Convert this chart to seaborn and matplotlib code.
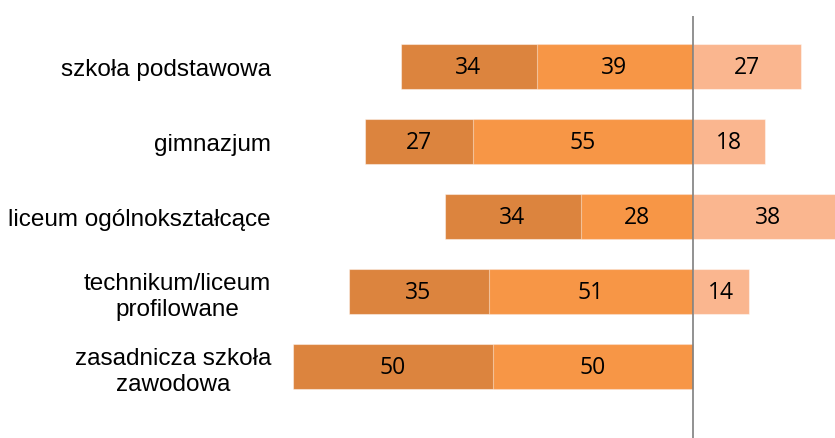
import seaborn as sns
import matplotlib.pyplot as plt
import pandas as pd

# data
categories = ["szkoła podstawowa", "gimnazjum", "liceum ogólnokształcące",
              "technikum/liceum\nprofilowane", "zasadnicza szkoła\nzawodowa"]
outer_left = [34, 27, 34, 35, 50]   # dark segment, far left
inner_left = [39, 55, 28, 51, 50]   # middle segment, next to zero
right_part = [27, 18, 38, 14, 0]    # light segment, right of zero

dark = "#DC843E"
mid = "#F79646"
light = "#FAB68F"

df = pd.DataFrame({
    "cat": categories,
    "outer": outer_left,
    "inner": inner_left,
    "right": right_part,
})
df["left_total"] = -(df["outer"] + df["inner"])
df["inner_neg"] = -df["inner"]

sns.set_theme(style="white")
plt.rcParams["font.family"] = ["Liberation Sans", "DejaVu Sans"]

fig = plt.figure(figsize=(8.35, 4.39), dpi=100)
ax = fig.add_axes([280 / 835, 0, 1 - 280 / 835, 1])

edge = (1, 1, 1, 0.45)
sns.barplot(data=df, y="cat", x="left_total", color=dark, width=0.6,
            orient="h", ax=ax, edgecolor=edge, linewidth=0.8, saturation=1)
sns.barplot(data=df, y="cat", x="inner_neg", color=mid, width=0.6,
            orient="h", ax=ax, edgecolor=edge, linewidth=0.8, saturation=1)
sns.barplot(data=df, y="cat", x="right", color=light, width=0.6,
            orient="h", ax=ax, edgecolor=edge, linewidth=0.8, saturation=1)

# segment labels
num_font = ["Open Sans", "DejaVu Sans"]
for i, row in df.iterrows():
    segs = [(-row["inner"] - row["outer"] / 2, row["outer"]),
            (-row["inner"] / 2, row["inner"]),
            (row["right"] / 2, row["right"])]
    for xc, v in segs:
        if v > 0:
            ax.text(xc, i, f"{v}", ha="center", va="center",
                    fontsize=16.5, color="black", family=num_font)

# zero line
ax.vlines(0, -0.67, 5.0, color="#7F7F7F", linewidth=1.2, zorder=5)

ax.set_xlim(-(692.5 - 280) / 4.0, (835 - 692.5) / 4.0)
ax.set_ylim((439 - 67.5) / 75.1, -67.5 / 75.1)
ax.set_xlabel("")
ax.set_ylabel("")
ax.set_xticks([])
ax.tick_params(axis="y", length=0, pad=6.5, colors="black")
for lbl in ax.get_yticklabels():
    lbl.set_multialignment("center")
    lbl.set_fontsize(17.5)
for s in ax.spines.values():
    s.set_visible(False)

fig.savefig("out.png", dpi=100)
